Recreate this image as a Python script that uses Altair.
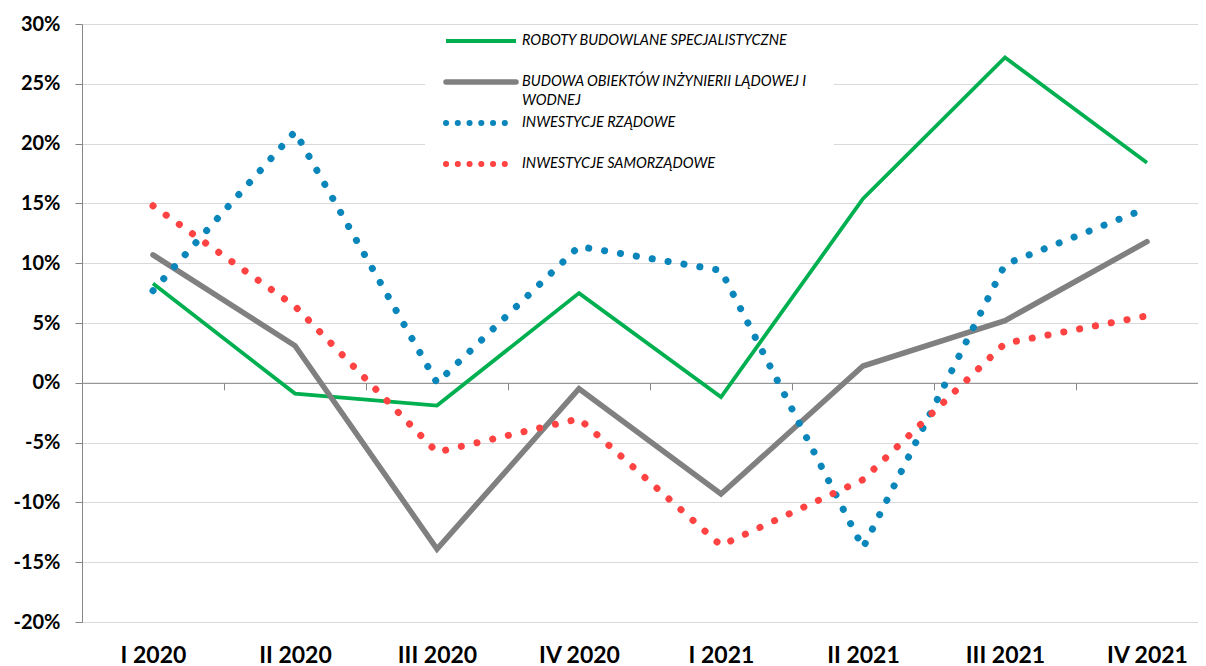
import altair as alt
import pandas as pd

# ---------------- data ----------------
quarters = ["I 2020", "II 2020", "III 2020", "IV 2020",
            "I 2021", "II 2021", "III 2021", "IV 2021"]
series_names = [
    "ROBOTY BUDOWLANE SPECJALISTYCZNE",
    "BUDOWA OBIEKTÓW INŻYNIERII LĄDOWEJ I WODNEJ",
    "INWESTYCJE RZĄDOWE",
    "INWESTYCJE SAMORZĄDOWE",
]
legend_lines = [
    ["ROBOTY BUDOWLANE SPECJALISTYCZNE"],
    ["BUDOWA OBIEKTÓW INŻYNIERII LĄDOWEJ I", "WODNEJ"],
    ["INWESTYCJE RZĄDOWE"],
    ["INWESTYCJE SAMORZĄDOWE"],
]
roboty = [8.3, -0.9, -1.9, 7.5, -1.2, 15.4, 27.2, 18.4]
budowa = [10.7, 3.1, -13.9, -0.5, -9.3, 1.4, 5.2, 11.8]
rzadowe = [7.7, 21.0, 0.0, 11.4, 9.4, -13.8, 9.9, 14.6]
samorzadowe = [14.8, 6.4, -5.8, -3.0, -13.6, -8.1, 3.3, 5.6]
y_ticks = [-20, -15, -10, -5, 0, 5, 10, 15, 20, 25, 30]

colors = ["#00B050", "#808080", "#0A86BA", "#FF4343"]

rows = []
for name, vals in zip(series_names, [roboty, budowa, rzadowe, samorzadowe]):
    for q, v in zip(quarters, vals):
        rows.append({"quarter": q, "series": name, "value": v})
df = pd.DataFrame(rows)

W = 1116
H = 598
FONT = "Lato"
AX = "#868686"

x_enc = alt.X(
    "quarter:N",
    sort=quarters,
    scale=alt.Scale(type="band", domain=quarters, range=[0, 1136],
                    paddingInner=0, paddingOuter=0),
    axis=alt.Axis(
        title=None, orient="bottom", offset=-0.4 * H, tickBand="extent",
        tickSize=7, tickColor=AX, domainColor=AX, domainWidth=1, tickWidth=1,
        labelAngle=0, labelFont=FONT, labelFontWeight="bold", labelFontSize=23,
        labelColor="black", labelPadding=0.4 * H + 15, grid=False,
    ),
)
y_scale = alt.Scale(domain=[-20, 30], nice=False, zero=False)
y_enc = alt.Y(
    "value:Q",
    scale=y_scale,
    axis=alt.Axis(
        title=None, values=y_ticks, labelExpr="datum.value + '%'",
        grid=True, gridColor="#D9D9D9", gridWidth=1,
        domainColor=AX, tickColor=AX, tickSize=7,
        labelFont=FONT, labelFontWeight="bold", labelFontSize=20,
        labelColor="black", labelPadding=15,
    ),
)
color_enc = alt.Color("series:N",
                      scale=alt.Scale(domain=series_names, range=colors),
                      legend=None)

base = alt.Chart(df)

def line_layer(name, **mark):
    return base.transform_filter(alt.datum.series == name).mark_line(**mark).encode(
        x=x_enc, y=y_enc, color=color_enc)

green = line_layer(series_names[0], strokeWidth=3.8, strokeJoin="miter")
gray = line_layer(series_names[1], strokeWidth=5.5, strokeCap="round", strokeJoin="miter")
blue = line_layer(series_names[2], strokeWidth=7, strokeCap="round",
                  strokeDash=[0.1, 16])
red = line_layer(series_names[3], strokeWidth=7, strokeCap="round",
                 strokeDash=[0.1, 16])

# ---------------- hand-made legend (top centre, white box) ----------------
one = alt.Chart(pd.DataFrame({"k": [0]}))
LX0, LX1 = 364, 434          # sample line span (px in plot area)
TX = 440                      # label start
ROW_Y = [17, 58, 99, 140]     # row centres
legend_layers = [
    one.mark_rect(color="white").encode(
        x=alt.value(343), x2=alt.value(752), y=alt.value(4), y2=alt.value(156)),
]
styles = [
    dict(strokeWidth=3.8, strokeCap="butt"),
    dict(strokeWidth=5.5, strokeCap="round"),
    dict(strokeWidth=6, strokeCap="round", strokeDash=[0.1, 11.65]),
    dict(strokeWidth=6, strokeCap="round", strokeDash=[0.1, 11.65]),
]
for i in range(4):
    legend_layers.append(
        one.mark_rule(color=colors[i], **styles[i]).encode(
            x=alt.value(LX0), x2=alt.value(LX1), y=alt.value(ROW_Y[i])))
    for j, txt in enumerate(legend_lines[i]):
        legend_layers.append(
            one.mark_text(align="left", baseline="middle", font=FONT,
                          fontStyle="italic", fontSize=14.5, color="black").encode(
                x=alt.value(TX), y=alt.value(ROW_Y[i] + 19 * j),
                text=alt.value(txt)))

chart = alt.layer(green, gray, blue, red, *legend_layers).properties(
    width=W, height=H,
    autosize=alt.AutoSizeParams(type="none"),
    padding={"left": 74, "top": 16, "right": 0, "bottom": 44},
).configure_view(stroke="transparent", strokeWidth=0).configure(background="white")

chart.save("out.html", embed_options={"renderer": "svg", "actions": False})
